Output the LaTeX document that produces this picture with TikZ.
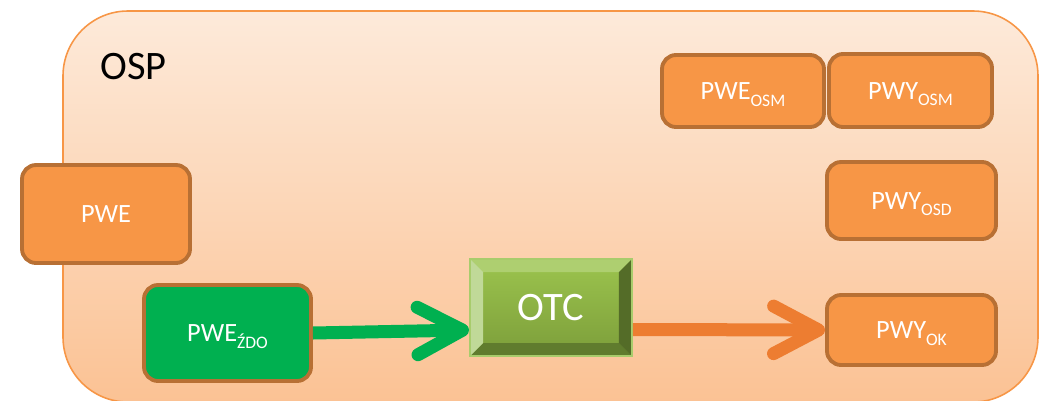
\documentclass[tikz,border=0pt]{standalone}
\usepackage{fontspec}
\setmainfont{Carlito}
\usetikzlibrary{arrows.meta}

\definecolor{ospTop}{RGB}{253,234,218}
\definecolor{ospBot}{RGB}{251,194,148}
\definecolor{ospLine}{RGB}{247,150,70}
\definecolor{boxOrange}{RGB}{247,150,70}
\definecolor{boxGreen}{RGB}{0,176,80}
\definecolor{boxLine}{RGB}{184,112,52}
\definecolor{arrOrange}{RGB}{237,125,49}
\definecolor{otcTop}{RGB}{156,196,78}
\definecolor{otcBot}{RGB}{124,158,58}
\definecolor{otcLine}{RGB}{168,204,108}
\definecolor{otcBevT}{RGB}{174,207,112}
\definecolor{otcBevL}{RGB}{192,217,152}
\definecolor{otcBevR}{RGB}{84,108,40}
\definecolor{otcBevB}{RGB}{96,124,46}

% subscript that keeps the caps centred
\newcommand\lo[1]{\raisebox{-3.9pt}[0pt][0pt]{\fontsize{10}{11}\selectfont #1}}

\tikzset{
    orangebox/.style={draw=boxLine, line width=2.2pt, fill=boxOrange, rounded corners=0.28cm,
        inner sep=0pt, text=white, font=\fontsize{15}{18}\selectfont,
        text height=9.7pt, text depth=0pt},
    greenbox/.style={orangebox, fill=boxGreen},
    otcbox/.style={draw=otcLine, line width=1.1pt, top color=otcTop, bottom color=otcBot,
        minimum width=3.24cm, minimum height=1.94cm, inner sep=0pt, text=white,
        font=\fontsize{23}{27}\selectfont,
        path picture={
            \coordinate (nw) at (path picture bounding box.north west);
            \coordinate (ne) at (path picture bounding box.north east);
            \coordinate (se) at (path picture bounding box.south east);
            \coordinate (sw) at (path picture bounding box.south west);
            \fill[otcBevT] (nw) -- (ne) -- ([shift={(-0.26cm,-0.26cm)}]ne) -- ([shift={(0.26cm,-0.26cm)}]nw) -- cycle;
            \fill[otcBevB] (sw) -- (se) -- ([shift={(-0.26cm,0.26cm)}]se) -- ([shift={(0.26cm,0.26cm)}]sw) -- cycle;
            \fill[otcBevL] (nw) -- (sw) -- ([shift={(0.26cm,0.26cm)}]sw) -- ([shift={(0.26cm,-0.26cm)}]nw) -- cycle;
            \fill[otcBevR] (ne) -- (se) -- ([shift={(-0.26cm,0.26cm)}]se) -- ([shift={(-0.26cm,-0.26cm)}]ne) -- cycle;
        }},
    greenarrow/.style={draw=boxGreen, line width=7.4pt,
        -{Straight Barb[length=0.9cm, width=0.95cm, round]}},
    orangearrow/.style={greenarrow, draw=arrOrange}
}

\begin{document}
\begin{tikzpicture}[x=0.02cm, y=-0.02cm]
    \useasboundingbox (0,0) rectangle (1042,400);
    \clip (0,0) rectangle (1042,400);

    % OSP frame
    \draw[ospLine, line width=0.9pt, top color=ospTop, bottom color=ospBot, rounded corners=1.3cm]
        (63,11) rectangle (1038,402);
    \node[anchor=base west, inner sep=0pt, font=\fontsize{23}{27}\selectfont] (osp) at (100,79) {OSP};

    % inputs
    \node[orangebox, minimum width=3.36cm, minimum height=1.96cm] (pwe) at (106,214) {PWE};
    \node[greenbox, minimum width=3.34cm, minimum height=1.92cm] (pwezdo) at (227.5,333) {PWE\lo{ŹDO}};

    % OTC
    \node[otcbox] (otc) at (551,307.5) {OTC};

    % outputs
    \node[orangebox, minimum width=3.24cm, minimum height=1.44cm] (pweosm) at (743,91) {PWE\lo{OSM}};
    \node[orangebox, minimum width=3.26cm, minimum height=1.46cm] (pwyosm) at (910.5,90.5) {PWY\lo{OSM}};
    \node[orangebox, minimum width=3.38cm, minimum height=1.54cm] (pwyosd) at (911.5,200.5) {PWY\lo{OSD}};
    \node[orangebox, minimum width=3.38cm, minimum height=1.40cm] (pwyok) at (911.5,330) {PWY\lo{OK}};

    % flow
    \draw[greenarrow] (pwezdo.east) -- ([yshift=-0.45cm]otc.west);
    \draw[orangearrow] ([yshift=-0.44cm]otc.east) -- (pwyok.west);
\end{tikzpicture}
\end{document}
